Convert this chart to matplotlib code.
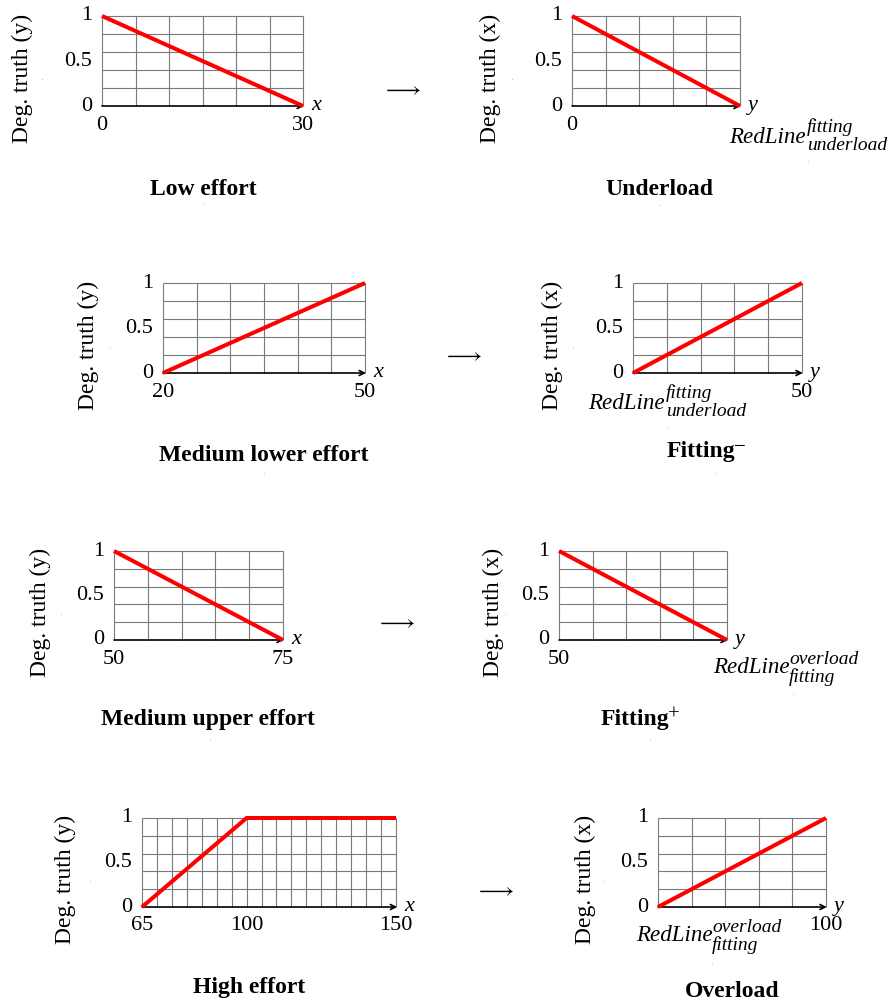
import numpy as np
import matplotlib
matplotlib.use("Agg")
import matplotlib.pyplot as plt

plt.rcParams['font.family'] = ['Liberation Serif', 'DejaVu Serif']
plt.rcParams['mathtext.fontset'] = 'custom'
plt.rcParams['mathtext.rm'] = 'Liberation Serif'
plt.rcParams['mathtext.it'] = 'Liberation Serif:italic'
plt.rcParams['mathtext.bf'] = 'Liberation Serif:bold'

# ---------------- data ----------------
titles = ["Low effort", "Underload", "Medium lower effort", "Fitting",
          "Medium upper effort", "Fitting", "High effort", "Overload"]
title_sups = [None, None, None, "\u2212", None, "+", None, None]
ylabels = ["Deg. truth (y)", "Deg. truth (x)", "Deg. truth (y)", "Deg. truth (x)",
           "Deg. truth (y)", "Deg. truth (x)", "Deg. truth (y)", "Deg. truth (x)"]
axis_letters = ["x", "y", "x", "y", "x", "y", "x", "y"]

low_x = [0, 30];          low_y = [1, 0]
under_x = [0, 1];         under_y = [1, 0]
medlow_x = [20, 50];      medlow_y = [0, 1]
fitminus_x = [0, 1];      fitminus_y = [0, 1]
medup_x = [50, 75];       medup_y = [1, 0]
fitplus_x = [0, 1];       fitplus_y = [1, 0]
high_x = [65, 100, 150];  high_y = [0, 1, 1]
over_x = [0, 1];          over_y = [0, 1]

series_x = [low_x, under_x, medlow_x, fitminus_x, medup_x, fitplus_x, high_x, over_x]
series_y = [low_y, under_y, medlow_y, fitminus_y, medup_y, fitplus_y, high_y, over_y]

xlims = [(0, 30), (0, 1), (20, 50), (0, 1), (50, 75), (0, 1), (65, 150), (0, 1)]
grid_steps = [5, 0.2, 5, 0.2, 5, 0.2, 5, 0.2]

# numeric x tick labels (value, text)
xtick_vals = [[0, 30], [0], [20, 50], [1], [50, 75], [0], [65, 100, 150], [1]]
xtick_txts = [["0", "30"], ["0"], ["20", "50"], ["50"], ["50", "75"], ["50"],
              ["65", "100", "150"], ["100"]]
# RedLine labels: tick value, base, superscript, subscript
redline_vals = [None, 1, None, 0, None, 1, None, 0]
redline_base = "RedLine"
redline_sup = [None, "fitting", None, "fitting", None, "overload", None, "overload"]
redline_sub = [None, "underload", None, "underload", None, "fitting", None, "fitting"]

ytick_vals = [0, 0.5, 1]
ytick_txts = ["0", "0.5", "1"]

# ---------------- layout (pixels) ----------------
W, H = 888, 1005
boxes = [(102, 303, 16, 106), (572, 740, 16, 106),
         (163, 365, 283, 373), (633, 802, 283, 373),
         (114, 283, 551, 640), (559, 727, 551, 640),
         (142, 396, 818, 907), (658, 826, 818, 907)]
ylabel_dx = [80, 82, 75, 81, 74, 66, 77, 73]
title_pos = [(203, 189), (659, 189), (264, 455), (735, 451),
             (208, 719), (669, 720), (249, 987), (732, 991)]
sup_pos = [None, None, None, (734, 447), None, (668, 715), None, None]
# junction point (end of "RedLine" baseline) relative to tick, pixels (dx, down)
redline_j = [None, (66, 37), None, (32, 36), None, (63, 33), None, (55, 34)]
redline_shift = [None, (-11, 7), None, (-11, 7), None, (-9, 9), None, (-9, 9)]
redline_gap = [None, 1, None, 1, None, -1, None, -1]
arrow_pos = [(402, 91), (463, 357), (396, 624), (495, 892)]
dots = [(42, 79), (203, 203), (512, 78), (808, 160), (660, 204),
        (110, 346), (264, 472), (573, 346), (667, 427), (715, 472),
        (61, 613), (210, 739), (505, 613), (793, 693), (650, 739),
        (90, 880), (603, 880), (712, 962)]

FS = 16
fig = plt.figure(figsize=(W / 100, H / 100), dpi=100)

def fx(px):
    return px / W

def fy(py):
    return 1 - py / H

for i in range(8):
    l, r, t, b = boxes[i]
    ax = fig.add_axes([fx(l), fy(b), (r - l) / W, (b - t) / H])
    x0, x1 = xlims[i]
    ax.set_xlim(x0, x1)
    ax.set_ylim(0, 1)
    for s in ax.spines.values():
        s.set_visible(False)
    ax.set_xticks([])
    ax.set_yticks([])
    ax.patch.set_alpha(0)
    # grid
    gx = np.arange(x0, x1 + grid_steps[i] / 2, grid_steps[i])
    gy = np.arange(0.2, 1.01, 0.2)
    ax.vlines(gx, 0, 1, colors='#7a7a7a', lw=0.8, clip_on=False, zorder=1)
    ax.hlines(gy, x0, x1, colors='#7a7a7a', lw=0.8, clip_on=False, zorder=1)
    # x axis with arrow
    ax.annotate('', xy=(1.005, 0), xytext=(0, 0), xycoords='axes fraction',
                textcoords='axes fraction',
                arrowprops=dict(arrowstyle='->', lw=1.2, color='black',
                                shrinkA=0, shrinkB=0, mutation_scale=9),
                zorder=2)
    # red line
    ax.plot(series_x[i], series_y[i], color='#ff0000', lw=2.9, clip_on=False,
            solid_capstyle='butt', zorder=3)
    # y tick labels
    for v, s in zip(ytick_vals, ytick_txts):
        ax.annotate(s, xy=(0, v), xycoords=('axes fraction', 'data'),
                    xytext=(-10, 0), textcoords='offset pixels',
                    ha='right', va='center', fontsize=FS)
    # x tick labels
    for v, s in zip(xtick_vals[i], xtick_txts[i]):
        ax.annotate(s, xy=(v, 0), xycoords='data', xytext=(0, -19),
                    textcoords='offset pixels', ha='center', va='center',
                    fontsize=FS)
    if redline_vals[i] is not None:
        jx, jy = redline_j[i]
        su, sd = redline_shift[i]
        g = redline_gap[i]
        ax.annotate(redline_base, xy=(redline_vals[i], 0), xycoords='data',
                    xytext=(jx, -jy), textcoords='offset pixels',
                    ha='right', va='baseline', fontsize=16.6, fontstyle='italic')
        ax.annotate(redline_sup[i], xy=(redline_vals[i], 0), xycoords='data',
                    xytext=(jx + g, -(jy + su)), textcoords='offset pixels',
                    ha='left', va='baseline', fontsize=14, fontstyle='italic')
        ax.annotate(redline_sub[i], xy=(redline_vals[i], 0), xycoords='data',
                    xytext=(jx + g, -(jy + sd)), textcoords='offset pixels',
                    ha='left', va='baseline', fontsize=14, fontstyle='italic')
    # axis letter
    ax.annotate(axis_letters[i], xy=(1, 0), xycoords='axes fraction',
                xytext=(8, -4), textcoords='offset pixels', ha='left',
                va='baseline', fontsize=FS, fontstyle='italic')
    # y label
    fig.text(fx(l - ylabel_dx[i]), fy((t + b) / 2 + 17), ylabels[i],
             rotation=90, ha='center', va='center', fontsize=17)
    # title
    if title_sups[i] is None:
        fig.text(fx(title_pos[i][0]), fy(title_pos[i][1]), titles[i],
                 ha='center', va='center', fontsize=17, fontweight='bold')
    else:
        fig.text(fx(title_pos[i][0]), fy(title_pos[i][1]), titles[i],
                 ha='right', va='center', fontsize=17, fontweight='bold')
        fig.text(fx(sup_pos[i][0]), fy(sup_pos[i][1]), title_sups[i],
                 ha='left', va='center', fontsize=15)

for (x, y) in arrow_pos:
    fig.text(fx(x), fy(y), r"$\longrightarrow$", ha='center', va='center',
             fontsize=16)

for (x, y) in dots:
    fig.text(fx(x), fy(y), ".", ha='center', va='center', fontsize=4,
             color='#555555')

fig.savefig("out.png", dpi=100)
